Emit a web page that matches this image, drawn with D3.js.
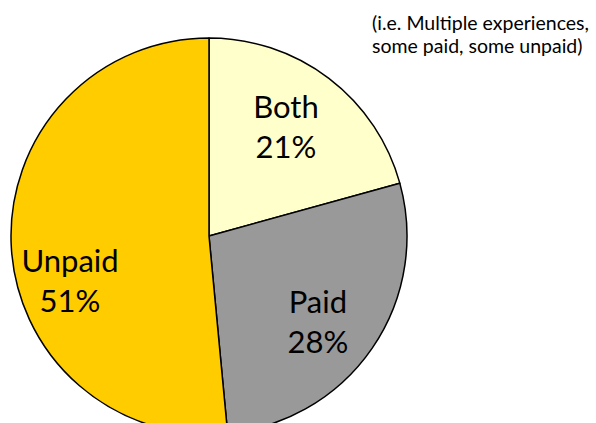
<!DOCTYPE html>
<html>
<head>
<meta charset="utf-8">
<script src="https://cdn.jsdelivr.net/npm/d3@7"></script>
<style>
  body { margin: 0; background: #fff; }
  svg { display: block; }
</style>
</head>
<body>
<div id="chart"></div>
<script>
const categories = ["Both", "Paid", "Unpaid"];
// slice shares (labels show them rounded)
const values = [20.7, 27.8, 51.5];
const pctLabels = ["21%", "28%", "51%"];
const colors = ["#FFFFCC", "#999999", "#FFCC00"];
const noteLines = ["(i.e. Multiple experiences,", "some paid, some unpaid)"];

const width = 596, height = 423;
const cx = 209, cy = 236, r = 198;

const svg = d3.select("#chart").append("svg")
    .attr("width", width).attr("height", height);

const pie = d3.pie().sort(null).value(d => d.value);
const arc = d3.arc().innerRadius(0).outerRadius(r);
const data = pie(categories.map((c, i) => ({ name: c, value: values[i], label: pctLabels[i], color: colors[i] })));

const g = svg.append("g").attr("transform", `translate(${cx},${cy})`);

g.selectAll("path").data(data).join("path")
    .attr("d", arc)
    .attr("fill", d => d.data.color)
    .attr("stroke", "#000")
    .attr("stroke-width", 1.5)
    .attr("stroke-linejoin", "round");

// labels sit near the centroid at 0.68r, nudged a bit like the original
const labelArc = d3.arc().innerRadius(r * 0.68).outerRadius(r * 0.68);
const nudge = { Both: [-4.5, -1.5], Paid: [-2, 9.5], Unpaid: [-4.5, 38.5] };

const labels = g.selectAll("text.lbl").data(data).join("text")
    .attr("class", "lbl")
    .attr("transform", d => {
        const [x, y] = labelArc.centroid(d);
        const [nx, ny] = nudge[d.data.name];
        return `translate(${x + nx},${y + ny})`;
    })
    .attr("text-anchor", "middle")
    .attr("font-family", "Lato, 'Open Sans', sans-serif")
    .attr("font-size", 31)
    .attr("fill", "#000");

labels.append("tspan").attr("x", 0).attr("y", -9).text(d => d.data.name);
labels.append("tspan").attr("x", 0).attr("y", 31).text(d => d.data.label);

svg.append("text")
    .attr("font-family", "Lato, 'Open Sans', sans-serif")
    .attr("font-size", 19.5)
    .selectAll("tspan").data(noteLines).join("tspan")
    .attr("x", 372).attr("y", (d, i) => 30 + i * 23)
    .text(d => d);
</script>
</body>
</html>
